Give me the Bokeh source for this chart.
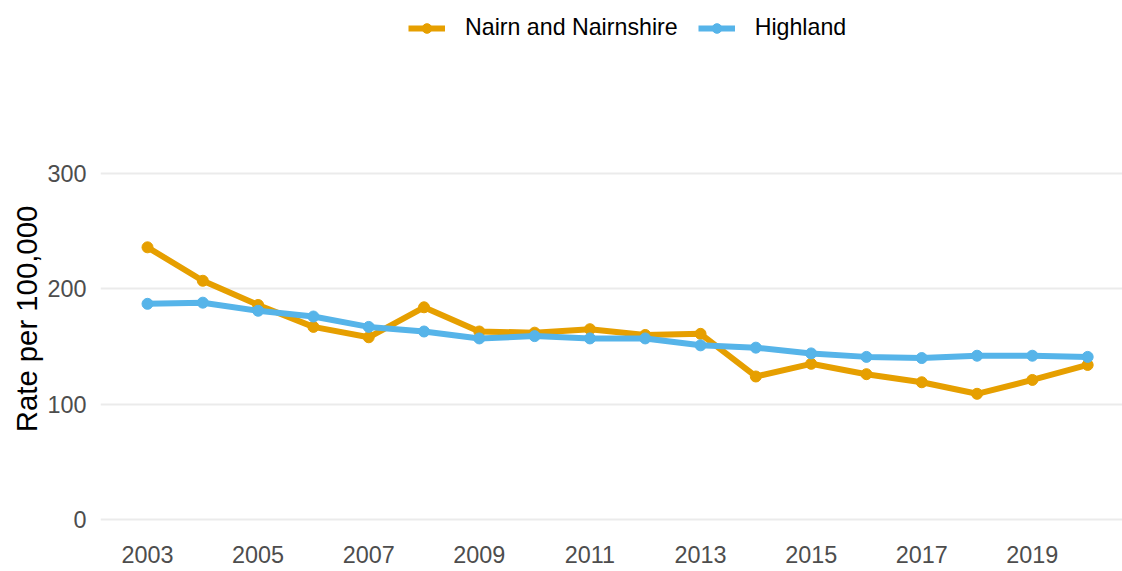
from bokeh.plotting import figure
from bokeh.layouts import column
from bokeh.models import Range1d, FixedTicker, Legend, LegendItem
from bokeh.embed import file_html
from bokeh.resources import INLINE

years = list(range(2003, 2021))
nairn = [236, 207, 186, 167, 158, 184, 163, 162, 165, 160, 161, 124, 135, 126, 119, 109, 121, 134]
highland = [187, 188, 181, 176, 167, 163, 157, 159, 157, 157, 151, 149, 144, 141, 140, 142, 142, 141]
x_ticks = [2003, 2005, 2007, 2009, 2011, 2013, 2015, 2017, 2019]
y_ticks = [0, 100, 200, 300]
series_names = ["Nairn and Nairnshire", "Highland"]
colors = ["#E69F00", "#56B4E9"]

FONT = "Liberation Sans"

# main chart
p = figure(width=1122, height=467, output_backend="svg", toolbar_location=None,
           x_range=Range1d(2002.15, 2020.63), y_range=Range1d(-12.14, 359.83),
           min_border_left=100, min_border_right=0, min_border_top=0, min_border_bottom=38)
p.outline_line_color = None
p.background_fill_color = "white"
p.border_fill_color = "white"

p.xgrid.grid_line_color = None
p.ygrid.grid_line_color = "#EBEBEB"
p.ygrid.grid_line_width = 2
p.yaxis.ticker = FixedTicker(ticks=y_ticks)
p.xaxis.ticker = FixedTicker(ticks=x_ticks)

for ax in (p.xaxis, p.yaxis):
    ax.axis_line_color = None
    ax.major_tick_line_color = None
    ax.minor_tick_line_color = None
    ax.major_tick_out = 0
    ax.major_tick_in = 0
    ax.major_label_text_font = FONT
    ax.major_label_text_font_size = "23.4px"
    ax.major_label_text_color = "#4D4D4D"

p.xaxis.major_label_standoff = 12
p.yaxis.major_label_standoff = 14
p.yaxis.axis_label = "Rate per 100,000"
p.yaxis.axis_label_text_font = FONT
p.yaxis.axis_label_text_font_size = "29.3px"
p.yaxis.axis_label_text_font_style = "normal"
p.yaxis.axis_label_text_color = "black"
p.yaxis.axis_label_standoff = 1

for name, vals, c in zip(series_names, [nairn, highland], colors):
    p.line(years, vals, line_color=c, line_width=6)
    p.scatter(years, vals, size=11, fill_color=c, line_color=c)

# legend strip above the chart (frame aligned with the chart's frame)
lg = figure(width=1122, height=104, output_backend="svg", toolbar_location=None,
            x_range=Range1d(0, 1), y_range=Range1d(0, 1),
            x_axis_type=None, y_axis_type=None, min_border=0)
lg.outline_line_color = None
lg.xgrid.grid_line_color = None
lg.ygrid.grid_line_color = None
lg.background_fill_color = "white"
lg.border_fill_color = "white"

items = []
for name, c in zip(series_names, colors):
    l = lg.line([-5, -4], [-5, -5], line_color=c, line_width=6)
    s = lg.scatter([-5], [-5], size=12, fill_color=c, line_color=c)
    items.append(LegendItem(label=name, renderers=[l, s]))

legend = Legend(items=items, orientation="horizontal", location=(308, 63),
                border_line_color=None, background_fill_alpha=0,
                padding=0, margin=0, spacing=20, glyph_width=37, glyph_height=24,
                label_standoff=20, label_text_font=FONT, label_text_font_size="23.2px",
                label_text_color="black")
lg.add_layout(legend)

layout = column(lg, p, spacing=0)
open("out.html", "w").write(file_html(layout, INLINE))
